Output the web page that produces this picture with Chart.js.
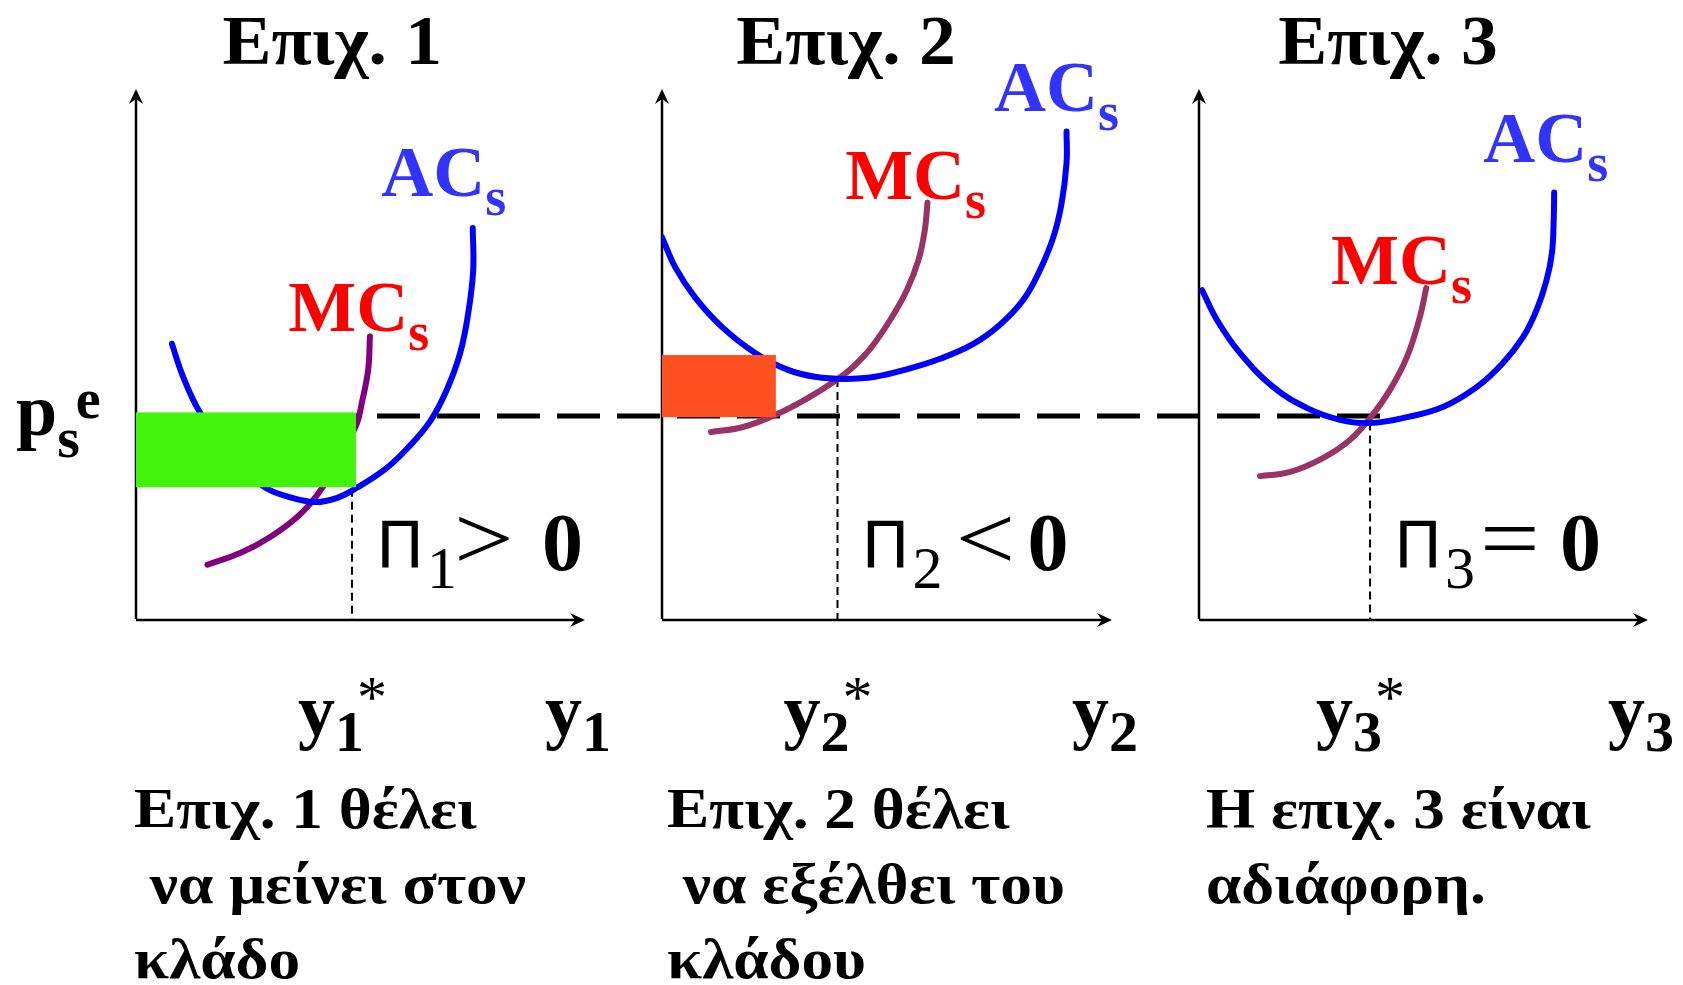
<!DOCTYPE html>
<html><head><meta charset="utf-8">
<script src="https://cdn.jsdelivr.net/npm/chart.js@4"></script>
<style>
html,body{margin:0;padding:0;background:#fff;width:1683px;height:985px;overflow:hidden}
canvas{position:absolute;top:0}
</style></head><body>
<canvas id="c1" width="620" height="985" style="left:0px;width:620px;height:985px"></canvas>
<canvas id="c2" width="540" height="985" style="left:620px;width:540px;height:985px"></canvas>
<canvas id="c3" width="523" height="985" style="left:1160px;width:523px;height:985px"></canvas>
<script>
// ---------- DATA ----------
const titles = ['Επιχ. 1', 'Επιχ. 2', 'Επιχ. 3'];
const firmIds = ['1', '2', '3'];
const profitOps = ['>', '<', '='];
const marketPrice = 3.84;               // p_s^e
const qStar = [4.81, 3.90, 3.81];       // y_i^*
const acAtQStar = [2.47, 4.54, 3.72];

// Firm 1
const acQ1 = [0.80, 1.05, 1.43, 2.10, 2.83, 3.43, 3.99, 4.48, 4.92, 5.55, 6.03, 6.55, 6.92, 7.22, 7.40, 7.51, 7.50];
const acP1 = [5.20, 4.58, 3.90, 3.12, 2.52, 2.31, 2.22, 2.30, 2.49, 2.84, 3.22, 3.74, 4.33, 5.03, 5.78, 6.59, 7.38];
const mcQ1 = [1.59, 2.32, 2.98, 3.59, 4.03, 4.45, 4.91, 5.03, 5.17, 5.21];
const mcP1 = [1.04, 1.26, 1.56, 1.94, 2.35, 2.90, 3.68, 4.09, 4.71, 5.34];
// Firm 2
const acQ2 = [0, 0.29, 0.73, 1.33, 2.07, 2.80, 3.40, 4.07, 4.73, 5.47, 6.18, 6.92, 7.51, 8.03, 8.40, 8.70, 8.88, 8.99, 8.99];
const acP2 = [7.21, 6.65, 6.08, 5.52, 5.03, 4.71, 4.58, 4.54, 4.58, 4.73, 4.92, 5.20, 5.56, 6.03, 6.59, 7.22, 7.85, 8.61, 9.20];
const mcQ2 = [1.09, 1.78, 2.51, 3.24, 3.91, 4.25, 4.62, 5.07, 5.44, 5.70, 5.84, 5.90];
const mcP2 = [3.54, 3.63, 3.86, 4.18, 4.54, 4.77, 5.10, 5.65, 6.21, 6.78, 7.34, 7.86];
// Firm 3
const acQ3 = [0.07, 0.40, 0.91, 1.65, 2.41, 3.14, 3.81, 4.63, 5.43, 6.19, 6.77, 7.22, 7.52, 7.74, 7.86, 7.90, 7.91];
const acP3 = [6.21, 5.65, 5.03, 4.39, 3.99, 3.77, 3.71, 3.82, 4.01, 4.39, 4.84, 5.33, 5.84, 6.40, 6.91, 7.53, 8.05];
const mcQ3 = [1.36, 2.03, 2.76, 3.36, 3.81, 4.25, 4.63, 4.92, 5.06];
const mcP3 = [2.71, 2.79, 3.05, 3.39, 3.80, 4.33, 4.95, 5.71, 6.25];

// Profit / loss rectangles (firm 1: profit, firm 2: loss)
const rectQ = [4.90, 2.53];
const rectLow = [2.50, 3.82];
const rectHigh = [3.91, 4.99];

const noteLines = [
  ['Επιχ. 1 θέλει', ' να μείνει στον', 'κλάδο'],
  ['Επιχ. 2 θέλει', ' να εξέλθει του', 'κλάδου'],
  ['Η επιχ. 3 είναι', 'αδιάφορη.']
];

// ---------- LAYOUT / STYLE ----------
const acQ = [acQ1, acQ2, acQ3], acP = [acP1, acP2, acP3];
const mcQ = [mcQ1, mcQ2, mcQ3], mcP = [mcP1, mcP2, mcP3];
const SERIF = '"Liberation Serif", "Times New Roman", serif';
const PIFONT = '"DejaVu Sans", sans-serif';
const mcColors = ['#800080', '#993366', '#993366'];
const rectColors = ['#43F30A', '#FF5022'];
const paddings = [
  {left: 136, right: 35, top: 89, bottom: 365},
  {left: 42, right: 48, top: 89, bottom: 365},
  {left: 39, right: 35, top: 89, bottom: 365}
];
// label anchors in data units (q, p)
const titleAnchor = [[4.37, 10.47], [4.09, 10.47], [4.21, 10.47]];
const acLabelAnchor = [[5.46, 7.98], [7.38, 9.59], [6.33, 8.63]];
const mcLabelAnchor = [[3.39, 5.44], [4.07, 7.93], [2.94, 6.33]];
const noteOffset = [-2, 5, 7];
const opOffset = [80, 96, 88];
const DASH_ORIGIN = 137, DASH = [43, 17];

function pts(qs, ps) { return qs.map((q, i) => ({x: q, y: ps[i]})); }

function drawRuns(ctx, x, y, runs) {
  for (const r of runs) {
    ctx.font = r.font;
    ctx.fillStyle = r.color || '#000';
    ctx.fillText(r.t, x + (r.dx || 0), y + (r.dy || 0));
    x += ctx.measureText(r.t).width + (r.dx || 0);
  }
  return x;
}

function stretchText(ctx, t, x, y, sx, align) {
  ctx.save();
  ctx.translate(x, y);
  ctx.scale(sx, 1);
  ctx.textAlign = align || 'left';
  ctx.fillText(t, 0, 0);
  ctx.restore();
}

function arrow(ctx, x, y, dir) {
  ctx.save();
  ctx.translate(x, y);
  if (dir === 'right') ctx.rotate(Math.PI / 2);
  ctx.beginPath();
  ctx.moveTo(0, 0);
  ctx.lineTo(-7, 15);
  ctx.lineTo(0, 10);
  ctx.lineTo(7, 15);
  ctx.closePath();
  ctx.fillStyle = '#000';
  ctx.fill();
  ctx.restore();
}

function makePlugin(idx) {
  return {
    id: 'firmDecor' + idx,
    beforeDatasetsDraw(chart) {
      const ctx = chart.ctx, xs = chart.scales.x, ys = chart.scales.y;
      const x0 = xs.getPixelForValue(0), y0 = ys.getPixelForValue(0);
      const xTop = xs.getPixelForValue(xs.max), yTop = ys.getPixelForValue(ys.max);
      ctx.save();
      ctx.strokeStyle = '#000';
      ctx.lineWidth = 2.5;
      ctx.beginPath();
      ctx.moveTo(x0, y0 - 1); ctx.lineTo(x0, yTop + 8);
      ctx.moveTo(x0, y0); ctx.lineTo(xTop - 8, y0);
      ctx.stroke();
      arrow(ctx, x0, yTop, 'up');
      arrow(ctx, xTop, y0, 'right');
      // market price dashed line
      const yPe = ys.getPixelForValue(marketPrice);
      const left = chart.canvas.offsetLeft;
      const startX = idx === 0 ? xs.getPixelForValue(rectQ[0]) : 0;
      const endX = idx === 2 ? xs.getPixelForValue(qStar[2]) + 10 : chart.width;
      const period = DASH[0] + DASH[1];
      ctx.setLineDash(DASH);
      ctx.lineDashOffset = ((left + startX - DASH_ORIGIN) % period + period) % period;
      ctx.lineWidth = 5;
      ctx.beginPath();
      ctx.moveTo(startX, yPe); ctx.lineTo(endX, yPe);
      ctx.stroke();
      // dotted vertical at q*
      const xq = xs.getPixelForValue(qStar[idx]);
      ctx.setLineDash([8, 5]);
      ctx.lineDashOffset = 0;
      ctx.lineWidth = 2;
      ctx.beginPath();
      ctx.moveTo(xq, ys.getPixelForValue(acAtQStar[idx]));
      ctx.lineTo(xq, y0);
      ctx.stroke();
      ctx.restore();
    },
    afterDatasetsDraw(chart) {
      const ctx = chart.ctx, xs = chart.scales.x, ys = chart.scales.y;
      const x0 = xs.getPixelForValue(0), y0 = ys.getPixelForValue(0);
      const xTop = xs.getPixelForValue(xs.max);
      ctx.save();
      if (idx < 2) {
        const l = xs.getPixelForValue(0), r = xs.getPixelForValue(rectQ[idx]);
        const t = ys.getPixelForValue(rectHigh[idx]), b = ys.getPixelForValue(rectLow[idx]);
        ctx.fillStyle = rectColors[idx];
        ctx.fillRect(l, t, r - l, b - t);
      }
      ctx.textBaseline = 'alphabetic';
      // title
      ctx.font = 'bold 70px ' + SERIF;
      ctx.fillStyle = '#000';
      stretchText(ctx, titles[idx], xs.getPixelForValue(titleAnchor[idx][0]), ys.getPixelForValue(titleAnchor[idx][1]), 1.05, 'center');
      ctx.textAlign = 'left';
      // curve labels
      drawRuns(ctx, xs.getPixelForValue(acLabelAnchor[idx][0]), ys.getPixelForValue(acLabelAnchor[idx][1]), [
        {t: 'AC', font: 'bold 72px ' + SERIF, color: '#3333FF'},
        {t: 's', font: 'bold 54px ' + SERIF, color: '#3333FF', dy: 19}
      ]);
      drawRuns(ctx, xs.getPixelForValue(mcLabelAnchor[idx][0]), ys.getPixelForValue(mcLabelAnchor[idx][1]), [
        {t: 'MC', font: 'bold 72px ' + SERIF, color: '#FF0000'},
        {t: 's', font: 'bold 54px ' + SERIF, color: '#FF0000', dy: 19}
      ]);
      // profit statement
      const xq = xs.getPixelForValue(qStar[idx]);
      const pb = y0 - 52;
      const px0 = xq + 24;
      drawRuns(ctx, px0, pb, [{t: 'Π', font: '64px ' + PIFONT}]);
      drawRuns(ctx, px0 + 51, pb + 20, [{t: firmIds[idx], font: '60px ' + SERIF}]);
      ctx.font = '92px ' + SERIF;
      stretchText(ctx, profitOps[idx], px0 + opOffset[idx] - 2, pb + 1, 1.15, 'left');
      drawRuns(ctx, px0 + 166, pb + 2, [{t: '0', font: 'bold 82px ' + SERIF}]);
      // y* label
      const lb = y0 + 115;
      let e = drawRuns(ctx, xq - 54, lb, [
        {t: 'y', font: 'bold 74px ' + SERIF},
        {t: firmIds[idx], font: 'bold 58px ' + SERIF, dy: 16}
      ]);
      drawRuns(ctx, e - 7, lb - 18, [{t: '*', font: '60px ' + SERIF}]);
      // axis label y_i
      drawRuns(ctx, xTop - 40, lb, [
        {t: 'y', font: 'bold 74px ' + SERIF},
        {t: firmIds[idx], font: 'bold 58px ' + SERIF, dy: 16}
      ]);
      // p_s^e label on first panel
      if (idx === 0) {
        const yPe = ys.getPixelForValue(marketPrice);
        let e2 = drawRuns(ctx, 16, yPe + 19, [
          {t: 'p', font: 'bold 74px ' + SERIF},
          {t: 's', font: 'bold 58px ' + SERIF, dy: 22}
        ]);
        drawRuns(ctx, e2 - 4, yPe + 2, [{t: 'e', font: 'bold 56px ' + SERIF}]);
      }
      // notes below
      ctx.font = 'bold 56px ' + SERIF;
      ctx.fillStyle = '#000';
      noteLines[idx].forEach((line, i) => {
        stretchText(ctx, line, x0 + noteOffset[idx], y0 + 208 + i * 75, 1.13, 'left');
      });
      ctx.restore();
    }
  };
}

function makeChart(id, idx) {
  return new Chart(document.getElementById(id), {
    type: 'line',
    data: {
      datasets: [
        {label: 'AC', data: pts(acQ[idx], acP[idx]), borderColor: '#0000FF', borderWidth: 6,
         pointRadius: 0, tension: 0.4, borderCapStyle: 'round', fill: false},
        {label: 'MC', data: pts(mcQ[idx], mcP[idx]), borderColor: mcColors[idx], borderWidth: 6,
         pointRadius: 0, tension: 0.4, borderCapStyle: 'round', fill: false}
      ]
    },
    options: {
      responsive: false,
      animation: false,
      devicePixelRatio: 1,
      layout: {padding: paddings[idx]},
      plugins: {legend: {display: false}, title: {display: false}, tooltip: {enabled: false}},
      scales: {
        x: {type: 'linear', min: 0, max: 10, display: false},
        y: {type: 'linear', min: 0, max: 10, display: false}
      },
      elements: {line: {borderJoinStyle: 'round', capBezierPoints: false}}
    },
    plugins: [makePlugin(idx)]
  });
}
makeChart('c1', 0);
makeChart('c2', 1);
makeChart('c3', 2);
</script>
</body></html>
